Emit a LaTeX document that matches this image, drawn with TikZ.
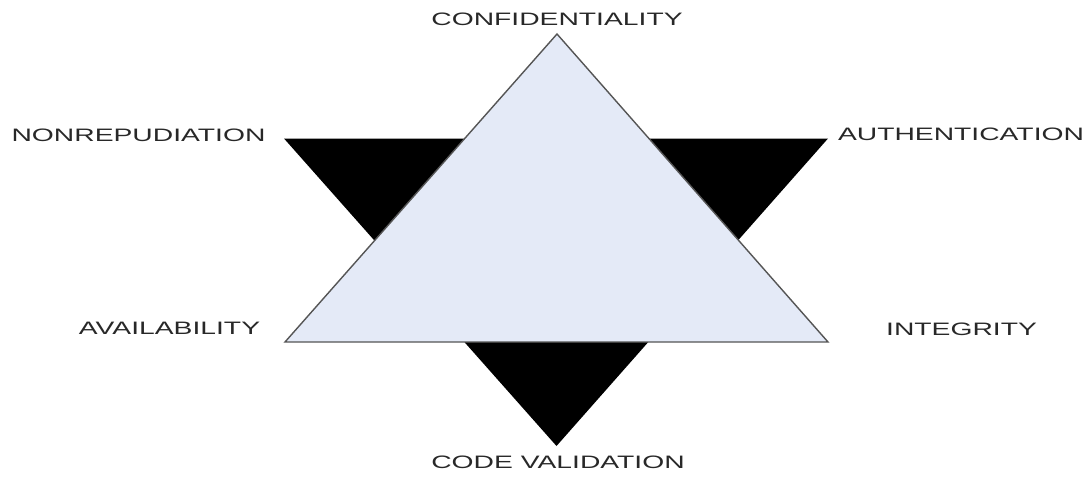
\documentclass[tikz,border=0pt]{standalone}
\usepackage{fontspec}
\usepackage{graphicx}
\usepackage{xcolor}
\usepackage{tikz}
\usetikzlibrary{positioning,calc}
\setmainfont{Liberation Sans}
\definecolor{softblue}{RGB}{228,234,247}
\definecolor{edgegray}{RGB}{85,85,85}
\definecolor{textgray}{RGB}{40,40,40}
\newcommand{\widecaps}[1]{\scalebox{1.57}[1]{#1}}

\begin{document}
\begin{tikzpicture}[x=1pt, y=-1pt, every node/.style={font=\fontsize{18}{20}\selectfont, text=textgray, inner sep=0pt}]
\useasboundingbox (0,0) rectangle (1089,479);
% corners of the two triangles
\coordinate (nw) at (284,138.5);
\coordinate (ne) at (828,138.5);
\coordinate (s) at (556.5,446);
\coordinate (apex) at (557,34);
\coordinate (bl) at (285,342);
\coordinate (br) at (828,342);
\fill[black] (nw) -- (ne) -- (s) -- cycle;
\draw[edgegray, line width=1.4pt, fill=softblue, line join=miter] (apex) -- (br) -- (bl) -- cycle;
% labels
\node (conf) at (557,19.5) {\widecaps{CONFIDENTIALITY}};
\node (nonrep) at (138.5,135) {\widecaps{NONREPUDIATION}};
\node (auth) at (961,134) {\widecaps{AUTHENTICATION}};
\node (avail) at (169.5,328) {\widecaps{AVAILABILITY}};
\node (integ) at (961.5,329) {\widecaps{INTEGRITY}};
\node (codeval) at (558,462) {\widecaps{CODE VALIDATION}};
\end{tikzpicture}
\end{document}
